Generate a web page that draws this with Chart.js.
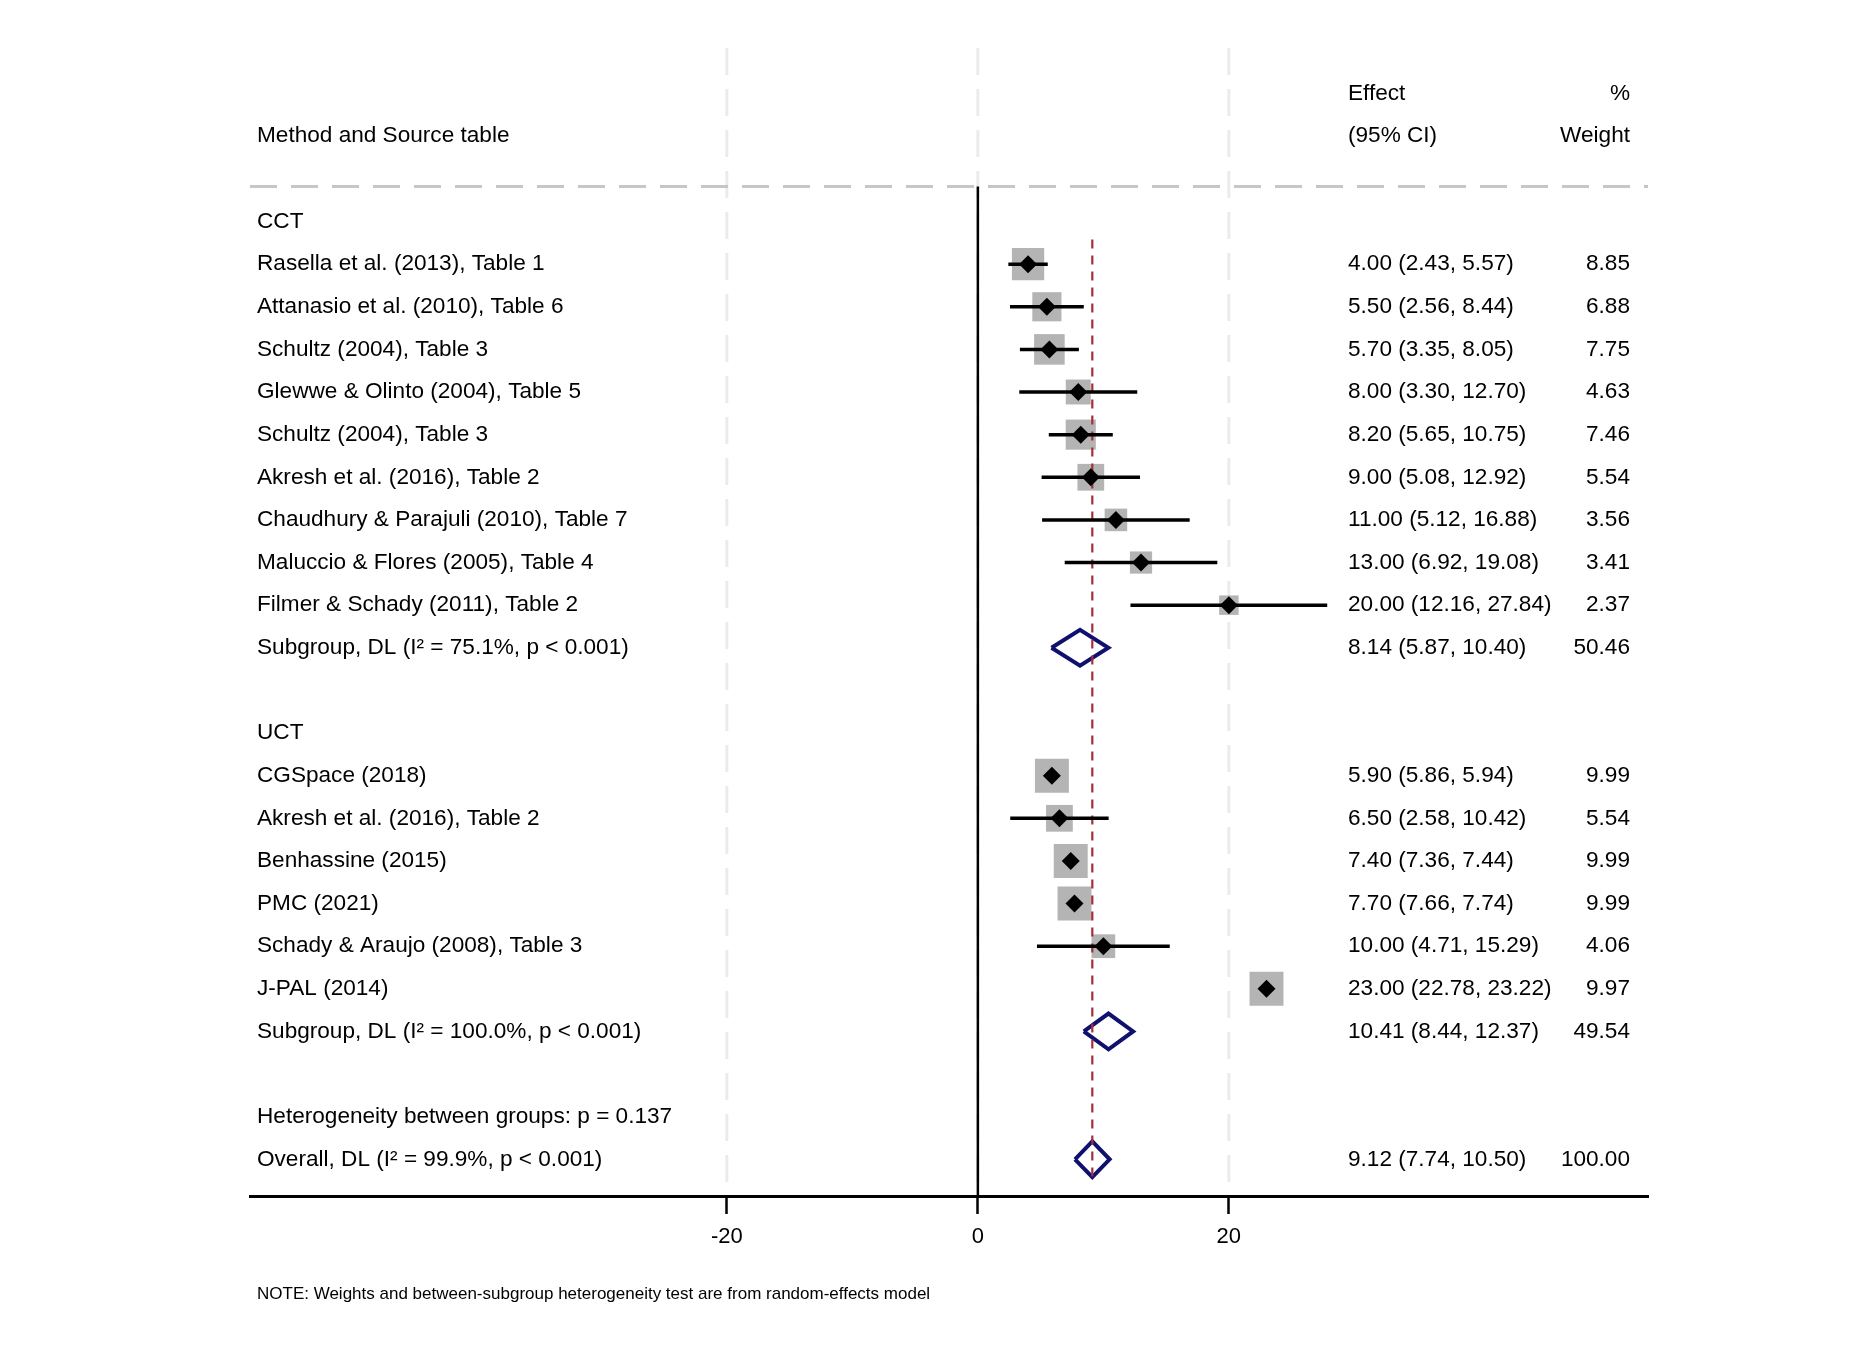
<!DOCTYPE html>
<html>
<head>
<meta charset="utf-8">
<script src="https://cdn.jsdelivr.net/npm/chart.js@4"></script>
<style>
  html, body { margin: 0; padding: 0; background: #fff; }
  #wrap { width: 1870px; height: 1360px; }
</style>
</head>
<body>
<div id="wrap"><canvas id="chart" width="1870" height="1360"></canvas></div>
<script>
const cctNames = [
  'Rasella et al. (2013), Table 1',
  'Attanasio et al. (2010), Table 6',
  'Schultz (2004), Table 3',
  'Glewwe & Olinto (2004), Table 5',
  'Schultz (2004), Table 3',
  'Akresh et al. (2016), Table 2',
  'Chaudhury & Parajuli (2010), Table 7',
  'Maluccio & Flores (2005), Table 4',
  'Filmer & Schady (2011), Table 2'
];
const cctEffect = [4.00, 5.50, 5.70, 8.00, 8.20, 9.00, 11.00, 13.00, 20.00];
const cctLow    = [2.43, 2.56, 3.35, 3.30, 5.65, 5.08, 5.12, 6.92, 12.16];
const cctHigh   = [5.57, 8.44, 8.05, 12.70, 10.75, 12.92, 16.88, 19.08, 27.84];
const cctWeight = [8.85, 6.88, 7.75, 4.63, 7.46, 5.54, 3.56, 3.41, 2.37];

const uctNames = [
  'CGSpace (2018)',
  'Akresh et al. (2016), Table 2',
  'Benhassine (2015)',
  'PMC (2021)',
  'Schady & Araujo (2008), Table 3',
  'J-PAL (2014)'
];
const uctEffect = [5.90, 6.50, 7.40, 7.70, 10.00, 23.00];
const uctLow    = [5.86, 2.58, 7.36, 7.66, 4.71, 22.78];
const uctHigh   = [5.94, 10.42, 7.44, 7.74, 15.29, 23.22];
const uctWeight = [9.99, 5.54, 9.99, 9.99, 4.06, 9.97];

const groupNames = ['CCT', 'UCT'];
const subgroupLabels = ['Subgroup, DL (I\u00B2 = 75.1%, p < 0.001)', 'Subgroup, DL (I\u00B2 = 100.0%, p < 0.001)'];
const subgroupEffect = [8.14, 10.41];
const subgroupLow    = [5.87, 8.44];
const subgroupHigh   = [10.40, 12.37];
const subgroupWeight = [50.46, 49.54];

const hetLabel = 'Heterogeneity between groups: p = 0.137';
const overallLabel = 'Overall, DL (I\u00B2 = 99.9%, p < 0.001)';
const overallEffect = 9.12, overallLow = 7.74, overallHigh = 10.50, overallWeight = 100.00;

const xTicks = [-20, 0, 20];
const noteText = 'NOTE: Weights and between-subgroup heterogeneity test are from random-effects model';

// build the row table: CCT header, studies, subgroup, gap, UCT header, studies, subgroup, gap, het, overall
const rows = [];
function addGroup(g, names, eff, lo, hi, w) {
  rows.push({ label: groupNames[g], kind: 'head' });
  names.forEach((n, i) => rows.push({ label: n, kind: 'study', eff: eff[i], lo: lo[i], hi: hi[i], w: w[i] }));
  rows.push({ label: subgroupLabels[g], kind: 'sum', eff: subgroupEffect[g], lo: subgroupLow[g], hi: subgroupHigh[g], w: subgroupWeight[g] });
  rows.push({ kind: 'gap' });
}
addGroup(0, cctNames, cctEffect, cctLow, cctHigh, cctWeight);
addGroup(1, uctNames, uctEffect, uctLow, uctHigh, uctWeight);
rows.push({ label: hetLabel, kind: 'head' });
rows.push({ label: overallLabel, kind: 'sum', eff: overallEffect, lo: overallLow, hi: overallHigh, w: overallWeight });
rows.forEach((r, i) => r.y = i);

const studies = rows.filter(r => r.kind === 'study');
const sums = rows.filter(r => r.kind === 'sum');
const lastRow = rows.length - 1;

const FONT = '"Liberation Sans", Arial, Helvetica, sans-serif';
const diamondHalf = 0.42;
const sepRow = -0.82;

const datasets = [];

datasets.push({
  label: 'markers',
  data: studies.map(r => ({ x: r.eff, y: r.y })),
  pointStyle: 'rectRot',
  pointRadius: 9,
  pointBackgroundColor: '#000',
  pointBorderWidth: 0,
  showLine: false,
  order: 0
});

studies.forEach(r => {
  datasets.push({
    label: 'ci',
    data: [{ x: r.lo, y: r.y }, { x: r.hi, y: r.y }],
    showLine: true,
    borderColor: '#000',
    borderWidth: 3.5,
    pointRadius: 0,
    order: 1
  });
});

sums.forEach(r => {
  datasets.push({
    label: 'diamond',
    data: [
      { x: r.lo, y: r.y }, { x: r.eff, y: r.y - diamondHalf },
      { x: r.hi, y: r.y }, { x: r.eff, y: r.y + diamondHalf },
      { x: r.lo, y: r.y }
    ],
    showLine: true,
    borderColor: '#10106e',
    borderWidth: 4,
    borderJoinStyle: 'miter',
    pointRadius: 0,
    order: 3
  });
});

datasets.push({
  label: 'overall line',
  data: [{ x: overallEffect, y: 0.42 }, { x: overallEffect, y: lastRow + diamondHalf }],
  showLine: true,
  borderColor: '#a0303c',
  borderWidth: 2.2,
  borderDash: [9, 7],
  pointRadius: 0,
  order: 2
});

// box side grows with sqrt of weight
datasets.push({
  label: 'weights',
  data: studies.map(r => ({ x: r.eff, y: r.y })),
  pointStyle: 'rect',
  pointRadius: studies.map(r => (5.7 + 8.94 * Math.sqrt(r.w)) / (2 * Math.SQRT1_2)),
  pointBackgroundColor: '#b4b4b4',
  pointBorderWidth: 0,
  showLine: false,
  order: 5
});

const frame = {
  id: 'frame',
  beforeDatasetsDraw(c) {
    const ctx = c.ctx, a = c.chartArea, xs = c.scales.x, ys = c.scales.y;
    ctx.save();
    ctx.strokeStyle = '#ebebeb';
    ctx.lineWidth = 3;
    ctx.setLineDash([27, 14]);
    xTicks.forEach(v => {
      const px = xs.getPixelForValue(v);
      ctx.beginPath(); ctx.moveTo(px, a.top); ctx.lineTo(px, a.bottom); ctx.stroke();
    });
    const sy = ys.getPixelForValue(sepRow);
    ctx.strokeStyle = '#c6c6c6';
    ctx.beginPath(); ctx.moveTo(a.left, sy); ctx.lineTo(a.right, sy); ctx.stroke();
    ctx.setLineDash([]);
    ctx.strokeStyle = '#000';
    ctx.lineWidth = 2.5;
    const zx = xs.getPixelForValue(0);
    ctx.beginPath(); ctx.moveTo(zx, sy); ctx.lineTo(zx, a.bottom); ctx.stroke();
    ctx.restore();
  }
};

const labels = {
  id: 'labels',
  afterDraw(c) {
    const ctx = c.ctx, a = c.chartArea, ys = c.scales.y;
    const leftX = a.left + 7;
    const effX = a.right - 300;
    const wX = a.right - 18;
    ctx.save();
    ctx.fillStyle = '#000';
    ctx.font = '22.6px ' + FONT;
    ctx.textBaseline = 'middle';

    ctx.textAlign = 'left';
    ctx.fillText('Effect', effX, ys.getPixelForValue(-3));
    ctx.fillText('Method and Source table', leftX, ys.getPixelForValue(-2));
    ctx.fillText('(95% CI)', effX, ys.getPixelForValue(-2));
    ctx.textAlign = 'right';
    ctx.fillText('%', wX, ys.getPixelForValue(-3));
    ctx.fillText('Weight', wX, ys.getPixelForValue(-2));

    rows.forEach(r => {
      if (!r.label) return;
      const py = ys.getPixelForValue(r.y);
      ctx.textAlign = 'left';
      ctx.fillText(r.label, leftX, py);
      if (r.eff !== undefined) {
        ctx.fillText(r.eff.toFixed(2) + ' (' + r.lo.toFixed(2) + ', ' + r.hi.toFixed(2) + ')', effX, py);
        ctx.textAlign = 'right';
        ctx.fillText(r.w.toFixed(2), wX, py);
      }
    });

    ctx.textAlign = 'left';
    ctx.font = '17px ' + FONT;
    ctx.fillText(noteText, leftX, a.bottom + 98);
    ctx.restore();
  }
};

new Chart(document.getElementById('chart'), {
  type: 'scatter',
  data: { datasets: datasets },
  options: {
    responsive: false,
    animation: false,
    events: [],
    layout: { padding: { left: 250, right: 222, top: 48, bottom: 104 } },
    plugins: { legend: { display: false }, tooltip: { enabled: false } },
    scales: {
      x: {
        type: 'linear',
        min: -58,
        max: 53.4,
        afterBuildTicks: s => { s.ticks = xTicks.map(v => ({ value: v })); },
        afterFit: s => { s.height = 60; },
        grid: { drawOnChartArea: false, drawTicks: true, tickLength: 18, tickWidth: 2.5, tickColor: '#000' },
        border: { display: true, color: '#000', width: 3 },
        ticks: { color: '#000', font: { family: FONT, size: 22 }, padding: 10, maxRotation: 0, autoSkip: false }
      },
      y: {
        type: 'linear',
        min: -4.07,
        max: 22.86,
        reverse: true,
        display: false
      }
    }
  },
  plugins: [frame, labels]
});
</script>
</body>
</html>
